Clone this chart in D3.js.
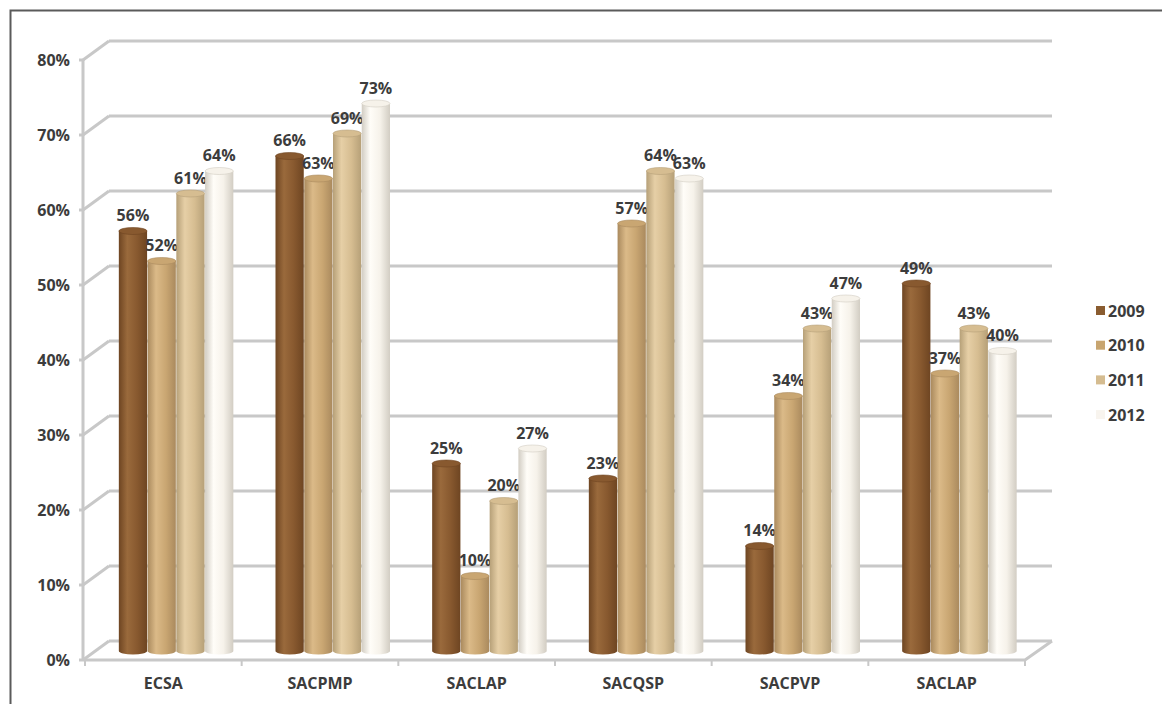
<!DOCTYPE html>
<html>
<head>
<meta charset="utf-8">
<script src="https://cdn.jsdelivr.net/npm/d3@7"></script>
<style>
  body { margin: 0; background: #fff; }
  text { font-family: "Open Sans", "Noto Sans", sans-serif; font-weight: bold; fill: #3c3c3c; }
</style>
</head>
<body>
<div id="chart"></div>
<script>
// =====================
// DATA
// =====================
const categories = ["ECSA", "SACPMP", "SACLAP", "SACQSP", "SACPVP", "SACLAP"];
const years = ["2009", "2010", "2011", "2012"];
const values = [
  [56, 52, 61, 64],
  [66, 63, 69, 73],
  [25, 10, 20, 27],
  [23, 57, 64, 63],
  [14, 34, 43, 47],
  [49, 37, 43, 40]
];
const yTicks = [0, 10, 20, 30, 40, 50, 60, 70, 80];

// colour per year: [edge dark, highlight, mid]
const palette = [
  ["#6e4522", "#9a6a3c", "#88592f"],
  ["#aa8a5e", "#dbba88", "#c9a672"],
  ["#b6a078", "#e6cfa6", "#d6bd91"],
  ["#d2cdc3", "#fffdf8", "#f6f2ea"]
];
const legendColors = ["#8a5c30", "#c8a570", "#d5bc90", "#f8f4ee"];

// =====================
// SVG SETUP
// =====================
const W = 1162, H = 704;
const svg = d3.select("#chart").append("svg")
  .attr("width", W).attr("height", H);

const defs = svg.append("defs");
palette.forEach((p, i) => {
  const g = defs.append("linearGradient").attr("id", "cyl" + i)
    .attr("x1", "0%").attr("x2", "100%");
  g.append("stop").attr("offset", "0%").attr("stop-color", p[0]);
  g.append("stop").attr("offset", "30%").attr("stop-color", p[1]);
  g.append("stop").attr("offset", "65%").attr("stop-color", p[2]);
  g.append("stop").attr("offset", "100%").attr("stop-color", p[0]);
});

// outer frame
svg.append("path")
  .attr("d", `M10.5,${H} L10.5,10.5 L${W},10.5`)
  .attr("fill", "none").attr("stroke", "#5a5a5a").attr("stroke-width", 2);

// =====================
// SCALES
// =====================
const depthX = 26, depthY = 19;
const frontLeft = 85, frontRight = 1025;

const yFront = d3.scaleLinear().domain([0, 80]).range([660, 60]);
const yBack = v => yFront(v) - depthY;
const yBar = v => yFront(v) - 9;

const x0 = d3.scaleBand()
  .domain(d3.range(categories.length))
  .range([frontLeft, frontRight])
  .paddingInner(0)
  .paddingOuter(0);

const groupW = 115;
const x1 = d3.scaleBand().domain(years).range([0, groupW]).padding(0);

// =====================
// WALLS / GRID
// =====================
const grid = svg.append("g")
  .attr("stroke", "#c8c8c8").attr("stroke-width", 3).attr("fill", "none");

yTicks.forEach(t => {
  // back wall line
  grid.append("line")
    .attr("x1", frontLeft - 2 + depthX).attr("x2", frontRight + depthX + 1)
    .attr("y1", yBack(t)).attr("y2", yBack(t));
  // side wall diagonal
  grid.append("line")
    .attr("x1", frontLeft - 2).attr("y1", yFront(t))
    .attr("x2", frontLeft - 2 + depthX).attr("y2", yBack(t));
  // tiny tick
  grid.append("line")
    .attr("x1", frontLeft - 6).attr("x2", frontLeft - 2)
    .attr("y1", yFront(t)).attr("y2", yFront(t));
});
// left wall front edge
grid.append("line")
  .attr("x1", frontLeft - 2).attr("x2", frontLeft - 2)
  .attr("y1", yFront(80)).attr("y2", yFront(0));
// floor front edge + right diagonal
grid.append("path")
  .attr("d", `M${frontLeft - 2},${yFront(0)} L${frontRight},${yFront(0)} L${frontRight + depthX + 1},${yBack(0)}`);
// category ticks on floor
d3.range(categories.length + 1).forEach(i => {
  const xx = i < categories.length ? x0(i) : frontRight;
  grid.append("line")
    .attr("stroke-width", 2)
    .attr("x1", xx).attr("x2", xx)
    .attr("y1", yFront(0)).attr("y2", yFront(0) + 6);
});

// y labels
svg.append("g").selectAll("text").data(yTicks).join("text")
  .attr("x", 70).attr("y", d => yFront(d))
  .attr("dy", "0.35em")
  .attr("text-anchor", "end")
  .style("font-size", "16px")
  .text(d => d + "%");

// category labels
svg.append("g").selectAll("text").data(categories).join("text")
  .attr("x", (d, i) => x0(i) + x0.bandwidth() / 2)
  .attr("y", 683).attr("dy", "0.35em")
  .attr("text-anchor", "middle")
  .style("font-size", "16px")
  .text(d => d);

// =====================
// CYLINDERS
// =====================
const ry = 3.5;
const bars = svg.append("g");
values.forEach((row, ci) => {
  const gx = x0(ci) + x0.bandwidth() / 2 + depthX / 2 - groupW / 2;
  row.forEach((v, si) => {
    const bx = gx + x1(years[si]);
    const bw = x1.bandwidth() - 0.5;
    const cx = bx + bw / 2;
    const top = yBar(v), base = yBar(0);
    const g = bars.append("g");
    g.append("path")
      .attr("d", `M${bx},${top} L${bx},${base} A${bw / 2},${ry} 0 0 0 ${bx + bw},${base} L${bx + bw},${top} Z`)
      .attr("fill", `url(#cyl${si})`);
    g.append("ellipse")
      .attr("cx", cx).attr("cy", top)
      .attr("rx", bw / 2).attr("ry", ry)
      .attr("fill", palette[si][2])
      .attr("stroke", palette[si][0]).attr("stroke-width", 0.6);
    g.append("text")
      .attr("x", cx).attr("y", top - 10)
      .attr("text-anchor", "middle")
      .style("font-size", "16px")
      .text(v + "%");
  });
});

// =====================
// LEGEND
// =====================
const legend = svg.append("g").attr("transform", "translate(1096,311)");
years.forEach((yr, i) => {
  const row = legend.append("g").attr("transform", `translate(0,${i * 34.7})`);
  row.append("rect")
    .attr("x", 0).attr("y", -5).attr("width", 9).attr("height", 9)
    .attr("fill", legendColors[i]);
  row.append("text")
    .attr("x", 12).attr("y", 0).attr("dy", "0.35em")
    .style("font-size", "16px")
    .text(yr);
});
</script>
</body>
</html>
